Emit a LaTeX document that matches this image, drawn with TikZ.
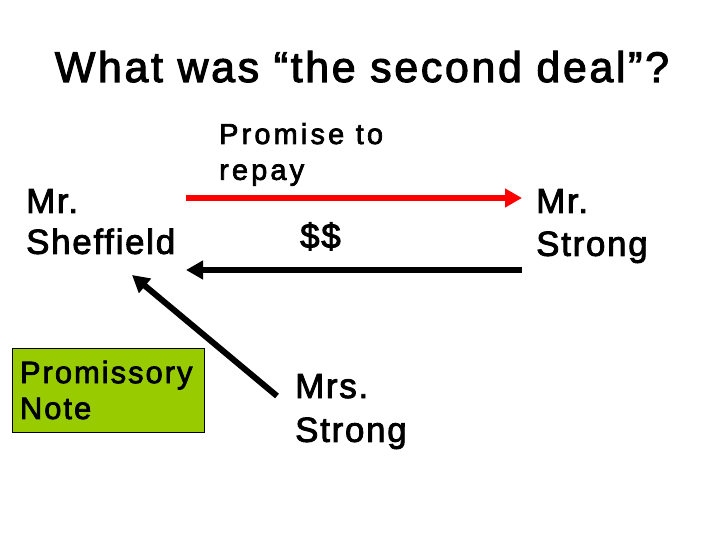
\documentclass[tikz,border=0pt]{standalone}
\usepackage{fontspec}
\setmainfont{Liberation Sans}
\newfontfamily\pptfont{Liberation Sans}
\usetikzlibrary{arrows.meta}
\definecolor{notegreen}{RGB}{153,204,0}
\definecolor{arrowred}{RGB}{255,0,0}
\newcommand{\ppt}[3]{\pptfont\fontsize{#1}{#2}\selectfont\addfontfeature{LetterSpace=#3,FakeBold=2.5}}
\tikzset{
  lbl/.style={anchor=base west, inner sep=0pt, align=left, text width=#1},
  arr/.style={line width=6bp, -{Triangle[length=17bp,width=18bp]}},
}
\begin{document}
\begin{tikzpicture}[x=1bp,y=-1bp]
\useasboundingbox[fill=white] (0,0) rectangle (720,540);
\node[anchor=base, inner sep=0pt, font=\ppt{43}{50}{6.3}] (title) at (362,82)
  {What was “the second deal”?};
\node[lbl=200bp, font=\ppt{35}{41}{5}] (sheffield) at (26,213)
  {Mr.\\Sheffield};
\node[lbl=150bp, font=\ppt{35}{43}{5}] (strong) at (536,213)
  {Mr.\\Strong};
\node[lbl=220bp, font=\ppt{29}{36}{11}] (promise) at (219,144)
  {Promise\hspace{0.4em}to\\repay};
\node[lbl=100bp, font=\ppt{35}{42}{5}] (money) at (300,248)
  {\$\$};
\node[lbl=150bp, font=\ppt{35}{44}{5}] (mrs) at (295,398)
  {Mrs.\\Strong};
\node[draw=black, line width=0.8bp, fill=notegreen, minimum width=192bp, minimum height=84bp,
      inner xsep=8bp, inner ysep=0pt, text width=176bp, align=left,
      font=\ppt{31}{36}{6.5}] (note) at (108,390)
  {Promissory\\Note};
\coordinate (r1) at (186,198);
\coordinate (r2) at (522,198);
\coordinate (b1) at (522,270);
\coordinate (b2) at (186,270);
\coordinate (d1) at (277,396);
\coordinate (d2) at (132,275);
\draw[arr, arrowred] (r1) -- (r2);
\draw[arr, black] (b1) -- (b2);
\draw[arr, black] (d1) -- (d2);
\end{tikzpicture}
\end{document}
